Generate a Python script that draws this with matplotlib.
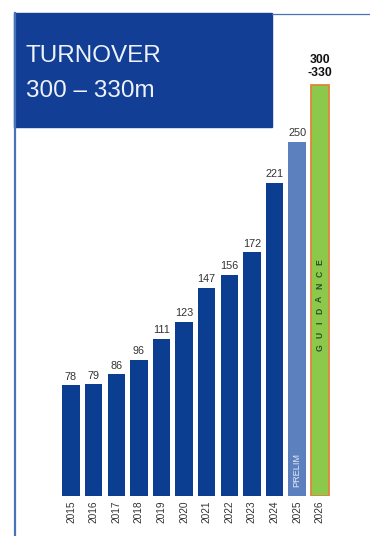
import matplotlib
matplotlib.use("Agg")
import matplotlib.pyplot as plt
from matplotlib.patches import Rectangle
from matplotlib.lines import Line2D

plt.rcParams["font.family"] = ["Liberation Sans", "DejaVu Sans"]

# ---- data ----
years = ["2015", "2016", "2017", "2018", "2019", "2020", "2021", "2022", "2023", "2024"]
turnover = [78, 79, 86, 96, 111, 123, 147, 156, 172, 221]
prelim_year = "2025"
prelim_value = 250
guidance_year = "2026"
guidance_label = "300\n-330"
guidance_bar = 290          # drawn height of the guidance bar in the original

DARK = "#0b3d91"
BOX = "#123f95"
LIGHT = "#5b80bd"
GREEN = "#8cc94b"
ORANGE = "#e0843e"
LINE = "#4a72b6"

W, H = 370, 536
fig = plt.figure(figsize=(W / 100, H / 100), dpi=100)

# ---- header box and frame lines (figure pixels, y from top) ----
def fx(p): return p / W
def fy(p): return 1 - p / H

fig.add_artist(Rectangle((fx(14), fy(127)), fx(272 - 14), (127 - 13) / H,
                         transform=fig.transFigure, color=BOX, zorder=1))
fig.add_artist(Line2D([fx(15), fx(15)], [fy(13), fy(536)], transform=fig.transFigure,
                      color=LINE, lw=1.6, zorder=2))
fig.add_artist(Line2D([fx(272), fx(370)], [fy(13.5), fy(13.5)], transform=fig.transFigure,
                      color=LINE, lw=0.9, zorder=2))
fig.text(fx(26), fy(62), "TURNOVER", color="#eef2fa", fontsize=17.5, va="baseline", ha="left")
fig.text(fx(26), fy(97), "300 \u2013 330m", color="#eef2fa", fontsize=17.5, va="baseline", ha="left")

# ---- bars ----
ax = fig.add_axes([50 / W, 1 - 496 / H, 295 / W, (496 - 40) / H])
ax.set_xlim(-0.929, 12.12)
ax.set_ylim(0, 321.7)
ax.axis("off")

xs = list(range(len(years)))
ax.bar(xs, turnover, width=0.77, color=DARK, zorder=2)
for x, v in zip(xs, turnover):
    ax.annotate(str(v), (x, v), xytext=(0, 2.5), textcoords="offset points",
                ha="center", va="bottom", fontsize=7.8, color="#333333")

xp = len(years)
ax.bar([xp], [prelim_value], width=0.77, color=LIGHT, zorder=2)
ax.annotate(str(prelim_value), (xp, prelim_value), xytext=(0, 2.5), textcoords="offset points",
            ha="center", va="bottom", fontsize=7.8, color="#333333")
ax.text(xp, 6, "PRELIM", rotation=90, ha="center", va="bottom", fontsize=6.6,
        color="#e4ebf7", zorder=3)

xg = len(years) + 1
ax.bar([xg], [guidance_bar], width=0.80, color=GREEN, edgecolor=ORANGE, linewidth=1.3, zorder=2)
ax.annotate(guidance_label, (xg, guidance_bar), xytext=(0, 4), textcoords="offset points",
            ha="center", va="bottom", fontsize=8.8, fontweight="bold", color="#111111",
            linespacing=1.1)
for k, ch in enumerate("GUIDANCE"):
    ax.text(xg, 105 + k * 8.6, ch, rotation=90, ha="center", va="center", fontsize=6.2,
            fontweight="bold", color="#2b4a2b", zorder=3)

ax.plot([-0.5, xg + 0.5], [0, 0], color="#cccccc", lw=0.8, zorder=1)

all_years = years + [prelim_year, guidance_year]
for x, yr in zip(range(len(all_years)), all_years):
    ax.annotate(yr, (x, 0), xytext=(0, -3), textcoords="offset points", rotation=90,
                ha="center", va="top", fontsize=7.3, color="#333333")

fig.savefig("out.png", dpi=100)
